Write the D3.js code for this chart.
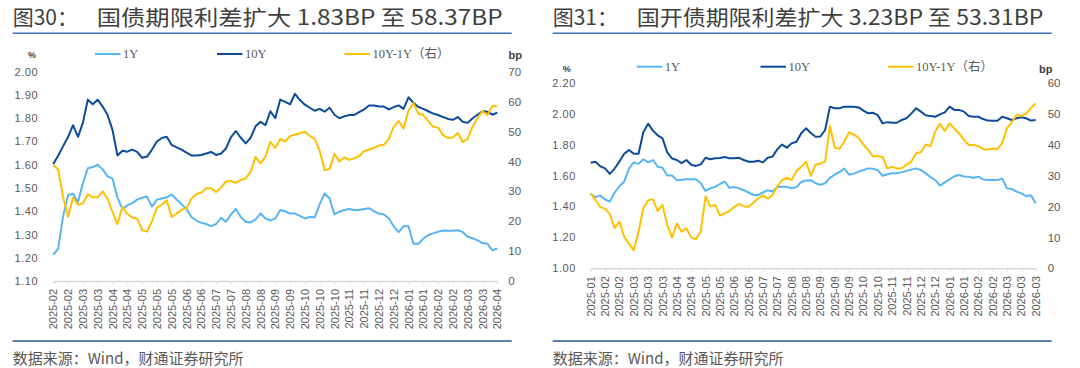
<!DOCTYPE html>
<html><head><meta charset="utf-8">
<script src="https://cdn.jsdelivr.net/npm/d3@7"></script>
<style>html,body{margin:0;padding:0;background:#fff;}svg{display:block;}</style>
</head><body>
<svg id="c" width="1080" height="368"></svg>
<script>
// ---------- DATA ----------
const leftTickLabels = ["2025-02","2025-02","2025-03","2025-03","2025-04","2025-04","2025-05","2025-05","2025-05","2025-06","2025-06","2025-07","2025-07","2025-08","2025-08","2025-09","2025-09","2025-10","2025-10","2025-10","2025-11","2025-11","2025-12","2025-12","2026-01","2026-01","2026-02","2026-02","2026-03","2026-03","2026-04"];
const rightTickLabels = ["2025-01","2025-02","2025-02","2025-03","2025-03","2025-03","2025-04","2025-04","2025-05","2025-05","2025-06","2025-06","2025-07","2025-07","2025-08","2025-08","2025-09","2025-09","2025-09","2025-10","2025-10","2025-11","2025-11","2025-12","2025-12","2026-01","2026-01","2026-02","2026-02","2026-03","2026-03","2026-03"];

// 国债 (treasury)
const gz1Y = [1.212,1.24,1.38,1.47,1.475,1.44,1.52,1.585,1.59,1.60,
 1.58,1.55,1.54,1.46,1.41,1.425,1.435,1.45,1.458,1.463,
 1.42,1.45,1.455,1.46,1.472,1.45,1.43,1.41,1.375,1.36,
 1.35,1.345,1.336,1.345,1.372,1.355,1.385,1.41,1.375,1.355,
 1.352,1.365,1.39,1.369,1.36,1.369,1.405,1.40,1.39,1.39,
 1.38,1.369,1.375,1.374,1.43,1.477,1.455,1.386,1.398,1.405,
 1.41,1.405,1.405,1.41,1.413,1.40,1.39,1.386,1.37,1.335,
 1.31,1.336,1.335,1.26,1.26,1.282,1.298,1.305,1.312,1.317,
 1.316,1.316,1.318,1.31,1.29,1.284,1.275,1.263,1.26,1.232,
 1.24];
const gz10Y = [1.603,1.64,1.68,1.72,1.77,1.72,1.78,1.88,1.86,1.88,
 1.85,1.814,1.75,1.64,1.66,1.656,1.665,1.655,1.63,1.635,
 1.665,1.70,1.715,1.72,1.685,1.675,1.665,1.652,1.64,1.64,
 1.642,1.648,1.655,1.642,1.648,1.67,1.718,1.745,1.716,1.692,
 1.716,1.765,1.785,1.77,1.83,1.80,1.88,1.87,1.86,1.905,
 1.878,1.858,1.845,1.832,1.84,1.828,1.845,1.815,1.80,1.808,
 1.814,1.814,1.826,1.838,1.855,1.855,1.85,1.85,1.838,1.848,
 1.855,1.84,1.89,1.866,1.848,1.84,1.83,1.82,1.814,1.805,
 1.797,1.793,1.805,1.785,1.78,1.80,1.815,1.83,1.828,1.815,
 1.824];
const gzSpread = [38.8,37.2,28,21.5,28,25.5,26,29,28,28,
 30,27.5,23,19,24.8,22.5,21.2,20.9,17,16.5,
 20,24.5,25.5,27,21.4,22.5,23.8,24.4,27.5,29,
 29.6,31,31,29.8,31.3,33.2,33.5,32.8,33.8,34.3,
 36.5,41.5,39.3,41.6,46.5,44.5,47.5,46.6,48.5,49,
 49.4,49.9,48.5,47.5,43.5,37,37.5,42.5,40,41.3,
 40.5,41,41.8,43.5,44,44.5,45.3,45.5,47.5,51.5,
 53.5,51,57,59.5,56,55.5,53.5,51.6,51.3,48.8,
 47.9,48,49.5,46.5,47.5,51.6,54.4,56.8,55.5,58.5,
 58.37];

// 国开债 (CDB)
const gk1Y = [1.48,1.46,1.47,1.445,1.432,1.49,1.53,1.56,1.645,1.685,
 1.675,1.705,1.685,1.70,1.657,1.65,1.60,1.60,1.57,1.572,
 1.575,1.575,1.575,1.55,1.50,1.517,1.527,1.545,1.56,1.52,
 1.525,1.517,1.505,1.49,1.474,1.474,1.49,1.505,1.497,1.525,
 1.527,1.527,1.517,1.525,1.558,1.568,1.57,1.55,1.54,1.55,
 1.585,1.605,1.622,1.645,1.605,1.612,1.625,1.636,1.646,1.644,
 1.635,1.598,1.608,1.614,1.614,1.622,1.63,1.638,1.646,1.636,
 1.614,1.59,1.571,1.535,1.556,1.575,1.595,1.603,1.594,1.592,
 1.585,1.592,1.575,1.571,1.571,1.571,1.58,1.517,1.513,1.496,
 1.484,1.466,1.472,1.42];
const gk10Y = [1.683,1.689,1.66,1.646,1.61,1.645,1.69,1.74,1.765,1.74,
 1.74,1.88,1.935,1.89,1.86,1.84,1.75,1.71,1.70,1.68,
 1.70,1.67,1.662,1.672,1.715,1.705,1.711,1.713,1.72,1.712,
 1.711,1.714,1.70,1.689,1.689,1.695,1.685,1.715,1.722,1.77,
 1.80,1.78,1.808,1.818,1.873,1.905,1.875,1.851,1.852,1.894,
 2.045,2.035,2.035,2.045,2.045,2.045,2.04,2.02,2.002,2.005,
 1.99,1.937,1.945,1.941,1.941,1.959,1.97,2.00,2.035,2.013,
 1.99,1.984,1.98,1.995,2.008,2.045,2.024,2.024,2.013,1.985,
 1.98,1.98,1.965,1.955,1.954,1.954,1.98,1.97,1.959,1.97,
 1.976,1.97,1.955,1.959];
const gkSpread = [24.2,22.1,19.8,19.2,17.5,13,15.1,10.2,8,5.8,
 11.8,19.4,22,22.3,18.5,20.5,14,9.9,14.5,11.8,
 12.9,10,9.4,12,23.2,20,20.5,17,17.8,18.5,
 19.8,20.8,20,19.9,21.2,22.6,23.5,22.5,23.7,26.5,
 28.5,29.2,28.5,31.5,32.8,34.5,29.9,33.5,33.9,34.5,
 46,39,38.6,41,44,43.2,42.2,40,38.2,36.2,
 36.2,36,32.3,32.8,32.3,32.3,33.5,34.5,37.2,37.5,
 40,39.5,44.2,46.7,44.4,46.8,45.2,43.6,41.5,39.9,
 39.9,39.5,38.5,38.4,38.7,38.5,40.5,45.3,47.2,49.6,
 49.2,50,51.8,53.31];

const leftAxisTicksA = [1.10,1.20,1.30,1.40,1.50,1.60,1.70,1.80,1.90,2.00];
const rightAxisTicksA = [0,10,20,30,40,50,60,70];
const leftAxisTicksB = [1.00,1.20,1.40,1.60,1.80,2.00,2.20];
const rightAxisTicksB = [0,10,20,30,40,50,60];

const seriesNames = ["1Y","10Y","10Y-1Y（右）"];
const titleNums = ["图30：","图31："];
const titleTexts = ["国债期限利差扩大 1.83BP 至 58.37BP","国开债期限利差扩大 3.23BP 至 53.31BP"];
const sourceText = "数据来源：Wind，财通证券研究所";

// ---------- STYLE ----------
const C1 = "#58b5f4", C10 = "#0c4a9a", CS = "#ffc000";
const svg = d3.select("#c");
const tickFont = "'Liberation Sans', Arial, sans-serif";
const cjkFont = "'Noto Sans CJK SC', 'Noto Sans', sans-serif";
const legFont = "'Liberation Serif', 'Times New Roman', 'Noto Sans CJK SC', serif";

function panel(p) {
  const g = svg.append("g");
  // title
  g.append("text").attr("x", p.ox + 12.7).attr("y", 24.5).attr("font-family", cjkFont)
    .attr("font-size", 21).attr("fill", "#3f3f3f").text(p.tnum);
  g.append("text").attr("x", p.ox + 96.7).attr("y", 24.5).attr("font-family", cjkFont)
    .attr("font-size", 21).attr("fill", "#3f3f3f").attr("textLength", p.tlen)
    .attr("lengthAdjust", "spacingAndGlyphs").text(p.ttext);
  g.append("line").attr("x1", p.ox + 12.7).attr("x2", p.ox + 511.7).attr("y1", 33.3).attr("y2", 33.3)
    .attr("stroke", "#3b72b9").attr("stroke-width", 1.6);
  // source
  g.append("line").attr("x1", p.ox + 12.7).attr("x2", p.ox + 511.7).attr("y1", 341).attr("y2", 341)
    .attr("stroke", "#1f56a3").attr("stroke-width", 1.4);
  g.append("text").attr("x", p.ox + 12.7).attr("y", 364).attr("font-family", cjkFont)
    .attr("font-size", 15).attr("fill", "#595959").text(sourceText);

  const n = p.s1.length;
  const x = d3.scaleLinear().domain([0, n - 1]).range([p.x0, p.x1]);
  const yL = d3.scaleLinear().domain(p.ldom).range([p.yb, p.yt]);
  const yR = d3.scaleLinear().domain(p.rdom).range([p.yb, p.yt]);

  // x axis
  const tv = d3.range(0, n, 3);
  const xa = g.append("g").attr("transform", `translate(0,${p.yb})`)
    .call(d3.axisBottom(x).tickValues(tv).tickSize(3).tickSizeOuter(0)
      .tickFormat((d, i) => p.labels[i]));
  xa.select(".domain").attr("stroke", "#d9d9d9").attr("stroke-width", 1.5);
  xa.selectAll(".tick line").attr("stroke", "#d9d9d9");
  xa.selectAll(".tick text").attr("font-family", tickFont).attr("font-size", 11).attr("fill", "#595959")
    .attr("transform", "rotate(-90)").attr("text-anchor", "end").attr("dx", "-0.45em").attr("dy", "0.32em")
    .attr("y", 0).attr("x", -3);

  // left axis
  const la = g.append("g").attr("transform", `translate(${p.x0},0)`)
    .call(d3.axisLeft(yL).tickValues(p.lticks).tickSize(0).tickPadding(p.lpad).tickFormat(d3.format(".2f")));
  la.select(".domain").remove();
  la.selectAll("text").attr("font-family", tickFont).attr("font-size", 11).attr("fill", "#595959").attr("letter-spacing", 0.6);
  // right axis
  const ra = g.append("g").attr("transform", `translate(${p.x1},0)`)
    .call(d3.axisRight(yR).tickValues(p.rticks).tickSize(0).tickPadding(p.rpad).tickFormat(d3.format("d")));
  ra.select(".domain").remove();
  ra.selectAll("text").attr("font-family", tickFont).attr("font-size", 11.5).attr("fill", "#595959");

  // units
  g.append("text").attr("x", p.pctX).attr("y", p.unitY + 3.5).attr("text-anchor", "middle")
    .attr("font-family", tickFont).attr("font-size", 9).attr("font-weight", "bold").attr("fill", "#404040").text("%");
  g.append("text").attr("x", p.bpX).attr("y", p.unitY + 4).attr("font-family", tickFont)
    .attr("font-size", 11).attr("font-weight", "bold").attr("fill", "#404040").text("bp");

  // lines
  const lineL = d3.line().x((d, i) => x(i)).y(d => yL(d));
  const lineR = d3.line().x((d, i) => x(i)).y(d => yR(d));
  g.append("path").datum(p.s1).attr("d", lineL).attr("fill", "none").attr("stroke", C1).attr("stroke-width", 2).attr("stroke-linejoin", "round");
  g.append("path").datum(p.s10).attr("d", lineL).attr("fill", "none").attr("stroke", C10).attr("stroke-width", 2).attr("stroke-linejoin", "round");
  g.append("path").datum(p.sp).attr("d", lineR).attr("fill", "none").attr("stroke", CS).attr("stroke-width", 2).attr("stroke-linejoin", "round");

  // legend
  const cols = [C1, C10, CS];
  p.legX.forEach((lx, k) => {
    g.append("line").attr("x1", lx).attr("x2", lx + 25.5).attr("y1", p.legY).attr("y2", p.legY)
      .attr("stroke", cols[k]).attr("stroke-width", 2);
    g.append("text").attr("x", lx + 28).attr("y", p.legY + 4.2).attr("font-family", legFont)
      .attr("font-size", 12.5).attr("fill", "#595959").text(seriesNames[k]);
  });
}

panel({ox: 0, tnum: titleNums[0], ttext: titleTexts[0], tlen: 406,
  x0: 53.3, x1: 497.3, yt: 71.7, yb: 281, ldom: [1.10, 2.00], rdom: [0, 70],
  lticks: leftAxisTicksA, rticks: rightAxisTicksA, lpad: 15, rpad: 11,
  labels: leftTickLabels, s1: gz1Y, s10: gz10Y, sp: gzSpread,
  legX: [95, 217, 344.5], legY: 54, pctX: 32, bpX: 508.5, unitY: 54.5});

panel({ox: 540, tnum: titleNums[1], ttext: titleTexts[1], tlen: 406.6,
  x0: 590.7, x1: 1035.7, yt: 82.7, yb: 268.3, ldom: [1.00, 2.20], rdom: [0, 60],
  lticks: leftAxisTicksB, rticks: rightAxisTicksB, lpad: 14.7, rpad: 12,
  labels: rightTickLabels, s1: gk1Y, s10: gk10Y, sp: gkSpread,
  legX: [636.7, 760.5, 888], legY: 66.7, pctX: 566.7, bpX: 1039, unitY: 68.5});
</script>
</body></html>
